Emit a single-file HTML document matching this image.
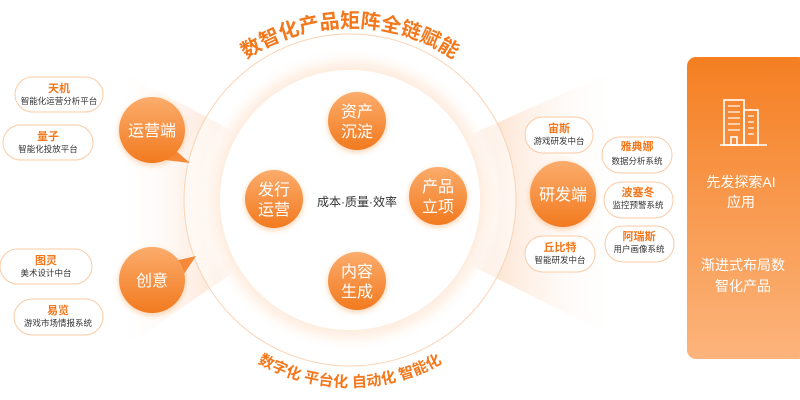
<!DOCTYPE html>
<html><head><meta charset="utf-8"><style>
html,body{margin:0;padding:0;width:800px;height:400px;overflow:hidden;background:#fff;font-family:"Liberation Sans","Noto Sans CJK SC",sans-serif}
</style></head><body>
<svg width="800" height="400" viewBox="0 0 800 400" xmlns="http://www.w3.org/2000/svg" style="position:absolute;left:0;top:0;font-family:'Liberation Sans','Noto Sans CJK SC',sans-serif">
<defs>
<linearGradient id="fanL" x1="0" y1="0" x2="1" y2="0"><stop offset="0" stop-color="#fff" stop-opacity="0"/><stop offset="1" stop-color="#fcd9c0"/></linearGradient>
<linearGradient id="fanR" x1="1" y1="0" x2="0" y2="0"><stop offset="0" stop-color="#fff" stop-opacity="0"/><stop offset="1" stop-color="#fcd9c0"/></linearGradient>
<radialGradient id="ring" cx="0.5" cy="0.5" r="0.5"><stop offset="0.78" stop-color="#fde3d0"/><stop offset="0.9" stop-color="#fff3ea"/><stop offset="1" stop-color="#fff" stop-opacity="0"/></radialGradient>
<linearGradient id="ball" x1="0" y1="0" x2="0" y2="1"><stop offset="0" stop-color="#fbac6c"/><stop offset="1" stop-color="#f27a1f"/></linearGradient>
<linearGradient id="panel" x1="0" y1="0" x2="0" y2="1"><stop offset="0" stop-color="#f57f22"/><stop offset="1" stop-color="#fcb47c"/></linearGradient>
<filter id="sh" x="-30%" y="-30%" width="160%" height="160%"><feDropShadow dx="0" dy="2" stdDeviation="3" flood-color="#f27a1f" flood-opacity="0.35"/></filter>
<path id="arcT" d="M 245 60 A 185 185 0 0 1 455 60"/>
<path id="arcB" d="M 250 358 A 186 186 0 0 0 450 358"/>
</defs>
<!-- fans -->
<polygon points="115,68 240,135 240,268 120,350" fill="url(#fanL)"/>
<polygon points="615,70 470,135 470,265 620,340" fill="url(#fanR)"/>
<!-- rings -->
<circle cx="350" cy="200" r="166" fill="#fff" fill-opacity="0.55" stroke="#fbd3b5" stroke-width="1"/>
<circle cx="350" cy="200" r="152" fill="url(#ring)"/>
<circle cx="350" cy="200" r="130" fill="#fff"/>
<text font-size="20" font-weight="bold" fill="#f3781c" text-anchor="middle"><textPath href="#arcT" startOffset="50%">数智化产品矩阵全链赋能</textPath></text>
<text font-size="15" font-weight="bold" fill="#f3781c" text-anchor="middle"><textPath href="#arcB" startOffset="50%">数字化 平台化 自动化 智能化</textPath></text>
<!-- inner balls -->
<g filter="url(#sh)">
<circle cx="357" cy="121" r="29" fill="url(#ball)"/>
<circle cx="274" cy="199" r="29" fill="url(#ball)"/>
<circle cx="438" cy="196" r="29" fill="url(#ball)"/>
<circle cx="357" cy="281" r="29" fill="url(#ball)"/>
</g>
<g fill="#fff" font-size="16" text-anchor="middle">
<text x="357" y="117">资产</text><text x="357" y="137">沉淀</text>
<text x="274" y="195">发行</text><text x="274" y="215">运营</text>
<text x="438" y="192">产品</text><text x="438" y="212">立项</text>
<text x="357" y="277">内容</text><text x="357" y="297">生成</text>
</g>
<text x="357" y="206" font-size="12" fill="#333" text-anchor="middle">成本·质量·效率</text>
<!-- big balls with tails -->
<polygon points="175,150 190,163 165,160" fill="#f58a3a"/>
<polygon points="170,262 196,256 180,280" fill="#f58a3a"/>
<polygon points="530,196 550,180 550,212" fill="#f58a3a"/>
<g filter="url(#sh)">
<circle cx="152" cy="130" r="33" fill="url(#ball)"/>
<circle cx="152" cy="280" r="33" fill="url(#ball)"/>
<circle cx="563" cy="194" r="33" fill="url(#ball)"/>
</g>
<g fill="#fff" font-size="16" text-anchor="middle">
<text x="152" y="136">运营端</text>
<text x="152" y="286">创意</text>
<text x="563" y="200">研发端</text>
</g>
<!-- pills -->
<g fill="#fff" stroke="#fbcba5" stroke-width="1">
<rect x="15" y="77" width="88" height="35" rx="17.5"/>
<rect x="3" y="125" width="90" height="35" rx="17.5"/>
<rect x="0" y="249" width="92" height="35" rx="17.5"/>
<rect x="14" y="299" width="89" height="36" rx="18"/>
<rect x="525" y="117" width="68" height="36" rx="18"/>
<rect x="602" y="137" width="70" height="36" rx="18"/>
<rect x="604" y="182" width="69" height="36" rx="18"/>
<rect x="605" y="226" width="69" height="36" rx="18"/>
<rect x="525" y="236" width="70" height="36" rx="18"/>
</g>
<g font-size="11" font-weight="bold" fill="#f3781c" text-anchor="middle">
<text x="59" y="92">天机</text><text x="48" y="140">量子</text><text x="46" y="264">图灵</text><text x="58" y="314">易览</text>
<text x="559" y="132">宙斯</text><text x="637" y="150">雅典娜</text><text x="638" y="196">波塞冬</text><text x="639" y="240">阿瑞斯</text><text x="560" y="251">丘比特</text>
</g>
<g font-size="8.5" fill="#333" text-anchor="middle">
<text x="59" y="104">智能化运营分析平台</text><text x="48" y="152">智能化投放平台</text><text x="46" y="276">美术设计中台</text><text x="58" y="326">游戏市场情报系统</text>
<text x="559" y="144">游戏研发中台</text><text x="637" y="164">数据分析系统</text><text x="638" y="208">监控预警系统</text><text x="639" y="252">用户画像系统</text><text x="560" y="263">智能研发中台</text>
</g>
<!-- right panel -->
<rect x="687" y="57" width="120" height="302" rx="9" fill="url(#panel)"/>
<g fill="none" stroke="#fff" stroke-width="1.6">
<rect x="724" y="100" width="20" height="45"/><rect x="744" y="110" width="14" height="35"/>
<line x1="720" y1="145" x2="767" y2="145"/><rect x="731" y="137" width="6" height="8"/>
</g>
<g stroke="#fff" stroke-width="1.2">
<line x1="728" y1="106" x2="740" y2="106"/><line x1="728" y1="112" x2="740" y2="112"/><line x1="728" y1="118" x2="740" y2="118"/><line x1="728" y1="124" x2="740" y2="124"/><line x1="728" y1="130" x2="740" y2="130"/>
<line x1="748" y1="116" x2="754" y2="116"/><line x1="748" y1="122" x2="754" y2="122"/><line x1="748" y1="128" x2="754" y2="128"/><line x1="748" y1="134" x2="754" y2="134"/>
</g>
<g fill="#fff" font-size="14" text-anchor="middle">
<text x="741" y="187">先发探索AI</text><text x="741" y="207">应用</text>
<text x="743" y="270">渐进式布局数</text><text x="743" y="291">智化产品</text>
</g>
</svg>
</body></html>
